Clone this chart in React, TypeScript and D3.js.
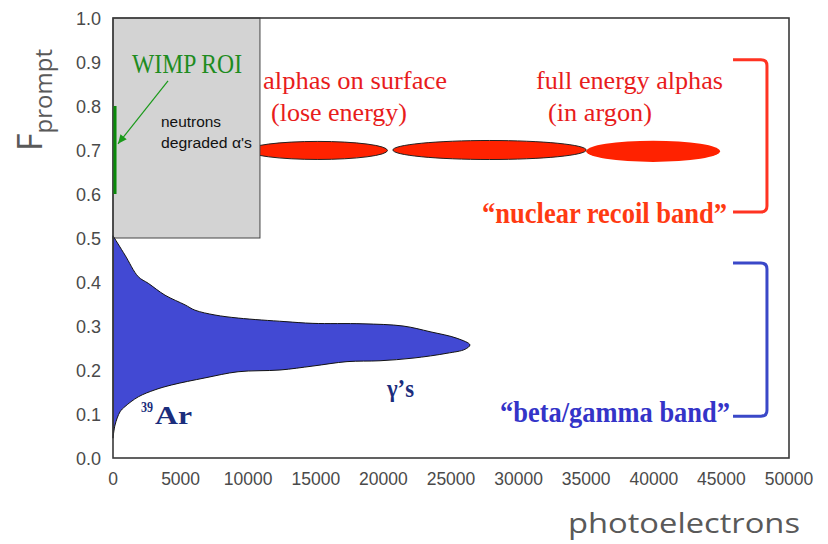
import React from "react";
import * as d3 from "d3";

const W = 828;
const H = 544;
const M = { left: 113, right: 789, top: 18, bottom: 458 };

// axis ticks
const xTicks = [0, 5000, 10000, 15000, 20000, 25000, 30000, 35000, 40000, 45000, 50000];
const yTicks = [0, 0.1, 0.2, 0.3, 0.4, 0.5, 0.6, 0.7, 0.8, 0.9, 1.0];

// beta/gamma band outline: upper edge (left → tip) then lower edge (tip → left)
const bandUpper: [number, number][] = [
  [0, 0.505], [890, 0.461], [1870, 0.412], [2610, 0.397], [3850, 0.37],
  [5330, 0.348], [6060, 0.336], [7540, 0.325], [9270, 0.318], [12720, 0.31],
  [14790, 0.306], [18490, 0.305], [21450, 0.3], [23450, 0.287], [25450, 0.272],
  [26400, 0.257],
];
const bandLower: [number, number][] = [
  [26030, 0.247], [24700, 0.238], [22190, 0.227], [19750, 0.221], [17310, 0.219],
  [14790, 0.209], [12350, 0.2], [9250, 0.196], [6800, 0.182], [4340, 0.166],
  [3110, 0.155], [1870, 0.139], [890, 0.117], [520, 0.105], [150, 0.075], [0, 0.045],
];

// alpha populations at Fprompt ~ 0.7
const alphaX0 = [10000, 20700, 35000];
const alphaX1 = [20300, 35000, 44900];
const alphaF = [0.699, 0.7, 0.697];
const alphaHalf = [0.0205, 0.0216, 0.024];
const alphaOutlined = [true, true, false];

// neutron / degraded-alpha region and WIMP region of interest
const boxX = [0, 10870];
const boxF = [0.5, 1.0];
const roiX = 150;
const roiF = [0.6, 0.8];

// band brackets
const bracketX = [45860, 48370];
const nrBracketF = [0.905, 0.559];
const bgBracketF = [0.443, 0.095];

const x = d3.scaleLinear().domain([0, 50000]).range([M.left, M.right]);
const y = d3.scaleLinear().domain([0, 1]).range([M.bottom, M.top]);

const SERIF = "'Liberation Serif', 'Times New Roman', serif";
const SANS = "'Liberation Sans', Arial, Helvetica, sans-serif";
const LABEL = "'Open Sans', 'Noto Sans', sans-serif";

function bracketPath(fTop: number, fBot: number) {
  const xl = x(bracketX[0]);
  const xr = x(bracketX[1]);
  const yt = y(fTop);
  const yb = y(fBot);
  const r = 6;
  return `M${xl},${yt} L${xr - r},${yt} Q${xr},${yt} ${xr},${yt + r} L${xr},${yb - r} Q${xr},${yb} ${xr - r},${yb} L${xl},${yb}`;
}

export default function App() {
  const bandLine = d3
    .line<[number, number]>()
    .x((d) => x(d[0]))
    .y((d) => y(d[1]))
    .curve(d3.curveCatmullRom.alpha(0.5));
  const bandPath = bandLine([...bandUpper, ...bandLower]) + "Z";

  const arrowFrom = [x(4070), y(0.857)];
  const arrowTo = [x(370), y(0.714)];
  const ang = Math.atan2(arrowTo[1] - arrowFrom[1], arrowTo[0] - arrowFrom[0]);
  const ah = 9;
  const aw = 4;
  const headPts = [
    [arrowTo[0], arrowTo[1]],
    [arrowTo[0] - ah * Math.cos(ang) + aw * Math.sin(ang), arrowTo[1] - ah * Math.sin(ang) - aw * Math.cos(ang)],
    [arrowTo[0] - ah * Math.cos(ang) - aw * Math.sin(ang), arrowTo[1] - ah * Math.sin(ang) + aw * Math.cos(ang)],
  ]
    .map((p) => p.join(","))
    .join(" ");

  const ellipse = (i: number) => {
    const cx = (x(alphaX0[i]) + x(alphaX1[i])) / 2;
    const rx = (x(alphaX1[i]) - x(alphaX0[i])) / 2;
    const ry = y(alphaF[i] - alphaHalf[i]) - y(alphaF[i]);
    return (
      <ellipse
        key={i}
        cx={cx}
        cy={y(alphaF[i])}
        rx={rx}
        ry={ry}
        fill="#ff2200"
        stroke={alphaOutlined[i] ? "#222" : "none"}
        strokeWidth={1}
      />
    );
  };

  return (
    <svg width={W} height={H} style={{ position: "absolute", left: 0, top: 0, background: "#fff" }}>
      {/* alphas hidden partly behind the box */}
      {ellipse(0)}
      <rect
        x={x(boxX[0])}
        y={y(boxF[1])}
        width={x(boxX[1]) - x(boxX[0])}
        height={y(boxF[0]) - y(boxF[1])}
        fill="#d3d3d3"
        stroke="#444"
        strokeWidth={1}
      />
      {ellipse(1)}
      {ellipse(2)}

      {/* beta/gamma band */}
      <path d={bandPath} fill="#4249d3" stroke="#111" strokeWidth={1} />

      {/* plot frame */}
      <rect
        x={M.left}
        y={M.top}
        width={M.right - M.left}
        height={M.bottom - M.top}
        fill="none"
        stroke="#3a3a3a"
        strokeWidth={1.6}
      />

      {/* WIMP ROI */}
      <line x1={x(roiX)} x2={x(roiX)} y1={y(roiF[0])} y2={y(roiF[1])} stroke="#0a8a0a" strokeWidth={3} />
      <line x1={arrowFrom[0]} y1={arrowFrom[1]} x2={arrowTo[0]} y2={arrowTo[1]} stroke="#1a9a1a" strokeWidth={1.2} />
      <polygon points={headPts} fill="#1a9a1a" />
      <text x={132} y={73} fontFamily={SERIF} fontSize={27} fill="#1e8c1e" textLength={110} lengthAdjust="spacingAndGlyphs">
        WIMP ROI
      </text>
      <text x={161} y={127} fontFamily={SANS} fontSize={15.5} fill="#111" textLength={60} lengthAdjust="spacingAndGlyphs">
        neutrons
      </text>
      <text x={161} y={148} fontFamily={SANS} fontSize={15.5} fill="#111" textLength={91} lengthAdjust="spacingAndGlyphs">
        degraded α's
      </text>

      {/* alpha labels */}
      <g fontFamily={SERIF} fontSize={26} fill="#e81c1c">
        <text x={263} y={89} textLength={184} lengthAdjust="spacingAndGlyphs">alphas on surface</text>
        <text x={271} y={121} textLength={136} lengthAdjust="spacingAndGlyphs">(lose energy)</text>
        <text x={536} y={89} textLength={187} lengthAdjust="spacingAndGlyphs">full energy alphas</text>
        <text x={548} y={121} textLength={104} lengthAdjust="spacingAndGlyphs">(in argon)</text>
      </g>

      {/* band brackets and names */}
      <path d={bracketPath(nrBracketF[0], nrBracketF[1])} fill="none" stroke="#ff3322" strokeWidth={3} />
      <path d={bracketPath(bgBracketF[0], bgBracketF[1])} fill="none" stroke="#3a48c8" strokeWidth={3} />
      <text x={482} y={223} fontFamily={SERIF} fontWeight="bold" fontSize={29} fill="#ff3a12" textLength={245} lengthAdjust="spacingAndGlyphs">
        “nuclear recoil band”
      </text>
      <text x={500} y={422} fontFamily={SERIF} fontWeight="bold" fontSize={29} fill="#3434c8" textLength={230} lengthAdjust="spacingAndGlyphs">
        “beta/gamma band”
      </text>

      {/* source labels */}
      <g fontFamily={SERIF} fontWeight="bold" fill="#1b2d7c">
        <text x={141} y={412} fontSize={14} textLength={12} lengthAdjust="spacingAndGlyphs">39</text>
        <text x={155} y={424} fontSize={25} textLength={37} lengthAdjust="spacingAndGlyphs">Ar</text>
        <text x={387} y={397} fontSize={25} textLength={27} lengthAdjust="spacingAndGlyphs">γ’s</text>
      </g>

      {/* x axis labels */}
      <g fontFamily={SANS} fontSize={17.5} fill="#4a4a4a" textAnchor="middle">
        {xTicks.map((t) => (
          <text key={t} x={x(t)} y={485}>
            {t}
          </text>
        ))}
      </g>
      {/* y axis labels */}
      <g fontFamily={SANS} fontSize={18} fill="#4a4a4a" textAnchor="end">
        {yTicks.map((t) => (
          <text key={t} x={101} y={y(t) + 7}>
            {t.toFixed(1)}
          </text>
        ))}
      </g>

      {/* axis titles */}
      <text x={568} y={533} fontFamily={LABEL} fontSize={27} fill="#595959" textLength={232} lengthAdjust="spacingAndGlyphs">
        photoelectrons
      </text>
      <g transform="translate(42,151) rotate(-90)" fontFamily={LABEL} fill="#595959">
        <text x={0} y={0} fontSize={34}>
          F
          <tspan fontSize={24} dy={10}>prompt</tspan>
        </text>
      </g>
    </svg>
  );
}
